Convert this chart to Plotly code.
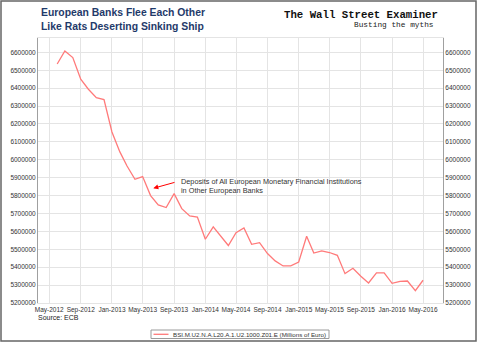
import pandas as pd
import plotly.graph_objects as go

# ---------------- data ----------------
start_month = "2012-06-01"
deposits = [
    6535000, 6608000, 6571000, 6450000, 6394000, 6347000, 6336000,            # 2012 Jun-Dec
    6155000, 6044000, 5965000, 5891000, 5906000, 5800000, 5748000, 5733000,    # 2013
    5811000, 5727000, 5686000, 5680000,
    5556000, 5625000, 5574000, 5521000, 5593000, 5619000, 5528000, 5537000,    # 2014
    5476000, 5435000, 5407000, 5407000,
    5429000, 5573000, 5479000, 5491000, 5482000, 5466000, 5364000, 5394000,    # 2015
    5349000, 5312000, 5368000, 5368000,
    5310000, 5321000, 5323000, 5269000, 5327000,                               # 2016 Jan-May
]
months = pd.date_range(start_month, periods=len(deposits), freq="MS")

x_tick_labels = ["May-2012", "Sep-2012", "Jan-2013", "May-2013", "Sep-2013", "Jan-2014",
                 "May-2014", "Sep-2014", "Jan-2015", "May-2015", "Sep-2015", "Jan-2016",
                 "May-2016"]
x_tick_vals = [pd.to_datetime(t, format="%b-%Y") for t in x_tick_labels]
y_tick_vals = list(range(5200000, 6600001, 100000))
y_range = [5200000, 6680000]
x_range = ["2012-03-18", "2016-07-18"]

series_name = "BSI.M.U2.N.A.L20.A.1.U2.1000.Z01.E (Millions of Euro)"
title_text = "European Banks Flee Each Other<br>Like Rats Deserting Sinking Ship"
brand_text = "The Wall Street Examiner"
brand_sub = "Busting the myths"
note_text = "Deposits of All European Monetary Financial Institutions<br>in Other European Banks"
source_text = "Source: ECB"

# ---------------- layout geometry ----------------
W, H = 480, 343
L, R, T, B = 38, 37, 38, 40
PW, PH = W - L - R, H - T - B


def px(xp):
    return (xp - L) / PW


def py(yp):
    return (H - B - yp) / PH


FONT = "Arial, Liberation Sans, sans-serif"
LINE_RED = "#FF7A7A"
GRID = "#E4E4E4"

fig = go.Figure()
fig.add_trace(go.Scatter(x=months, y=deposits, mode="lines", name=series_name,
                         line=dict(color=LINE_RED, width=1.3), yaxis="y", showlegend=False))
fig.add_trace(go.Scatter(x=months, y=deposits, mode="lines", showlegend=False,
                         opacity=0, hoverinfo="skip", yaxis="y2"))

axis_font = dict(family=FONT, size=6.5, color="#333333")
fig.update_layout(
    width=W, height=H,
    margin=dict(l=L, r=R, t=T, b=B, autoexpand=False),
    paper_bgcolor="white", plot_bgcolor="white",
    font=dict(family=FONT),
    xaxis=dict(range=x_range, tickvals=x_tick_vals, ticktext=x_tick_labels,
               showgrid=True, gridcolor=GRID, gridwidth=1, zeroline=False,
               showline=True, linecolor=GRID, mirror=True, ticks="",
               tickfont=axis_font, tickangle=0, automargin=False),
    yaxis=dict(range=y_range, tickvals=y_tick_vals, tickformat="d",
               showgrid=True, gridcolor=GRID, gridwidth=1, zeroline=False,
               showline=True, linecolor="#A0A0A0", ticks="", tickfont=axis_font,
               automargin=False),
    yaxis2=dict(range=y_range, tickvals=y_tick_vals, tickformat="d", overlaying="y",
                side="right", matches="y", showgrid=False, zeroline=False,
                showline=True, linecolor="#A0A0A0", ticks="", tickfont=axis_font,
                automargin=False),
    showlegend=False,
)

annotations = [
    dict(text="<b>" + title_text + "</b>", x=px(39), y=py(19.6), xref="paper", yref="paper",
         xanchor="left", yanchor="middle", align="left", showarrow=False,
         font=dict(family=FONT, size=10.4, color="#1F3A6A")),
    dict(text="<b>" + brand_text + "</b>", x=px(440), y=py(14.7), xref="paper", yref="paper",
         xanchor="right", yanchor="middle", showarrow=False,
         font=dict(family="Liberation Mono, Courier New, monospace", size=10.7, color="#111111")),
    dict(text=brand_sub, x=px(436), y=py(25.5), xref="paper", yref="paper",
         xanchor="right", yanchor="middle", showarrow=False,
         font=dict(family="Liberation Mono, Courier New, monospace", size=7.8, color="#222222")),
    dict(text=source_text, x=px(36), y=py(317), xref="paper", yref="paper",
         xanchor="left", yanchor="middle", showarrow=False,
         font=dict(family=FONT, size=7, color="#222222")),
    dict(text=note_text, x=px(179), y=py(186.4), xref="paper", yref="paper",
         xanchor="left", yanchor="middle", align="left", showarrow=False,
         font=dict(family=FONT, size=7.3, color="#333333")),
    dict(text="", x=px(153.3), y=py(188.3), xref="paper", yref="paper",
         showarrow=True, ax=22.7, ay=-6.3, axref="pixel", ayref="pixel",
         arrowhead=2, arrowsize=1, arrowwidth=1, arrowcolor="#FF0000", standoff=0),
    # legend entry text
    dict(text=series_name, x=px(170.5), y=py(334.3), xref="paper", yref="paper",
         xanchor="left", yanchor="middle", showarrow=False,
         font=dict(family=FONT, size=6.2, color="#333333")),
]
fig.update_layout(annotations=annotations)

# legend box and swatch
fig.add_shape(type="rect", xref="paper", yref="paper",
              x0=px(151), x1=px(329), y0=py(338.5), y1=py(330),
              line=dict(color="#9A9A9A", width=1), fillcolor="white", layer="above")
fig.add_shape(type="line", xref="paper", yref="paper",
              x0=px(153.5), x1=px(168.5), y0=py(334.3), y1=py(334.3),
              line=dict(color=LINE_RED, width=1.3), layer="above")

# outer frame
fig.add_shape(type="rect", xref="paper", yref="paper",
              x0=px(1), x1=px(476), y0=py(341), y1=py(1),
              line=dict(color="#666666", width=1.5), fillcolor="rgba(0,0,0,0)", layer="above")

fig.write_html("out.html")
